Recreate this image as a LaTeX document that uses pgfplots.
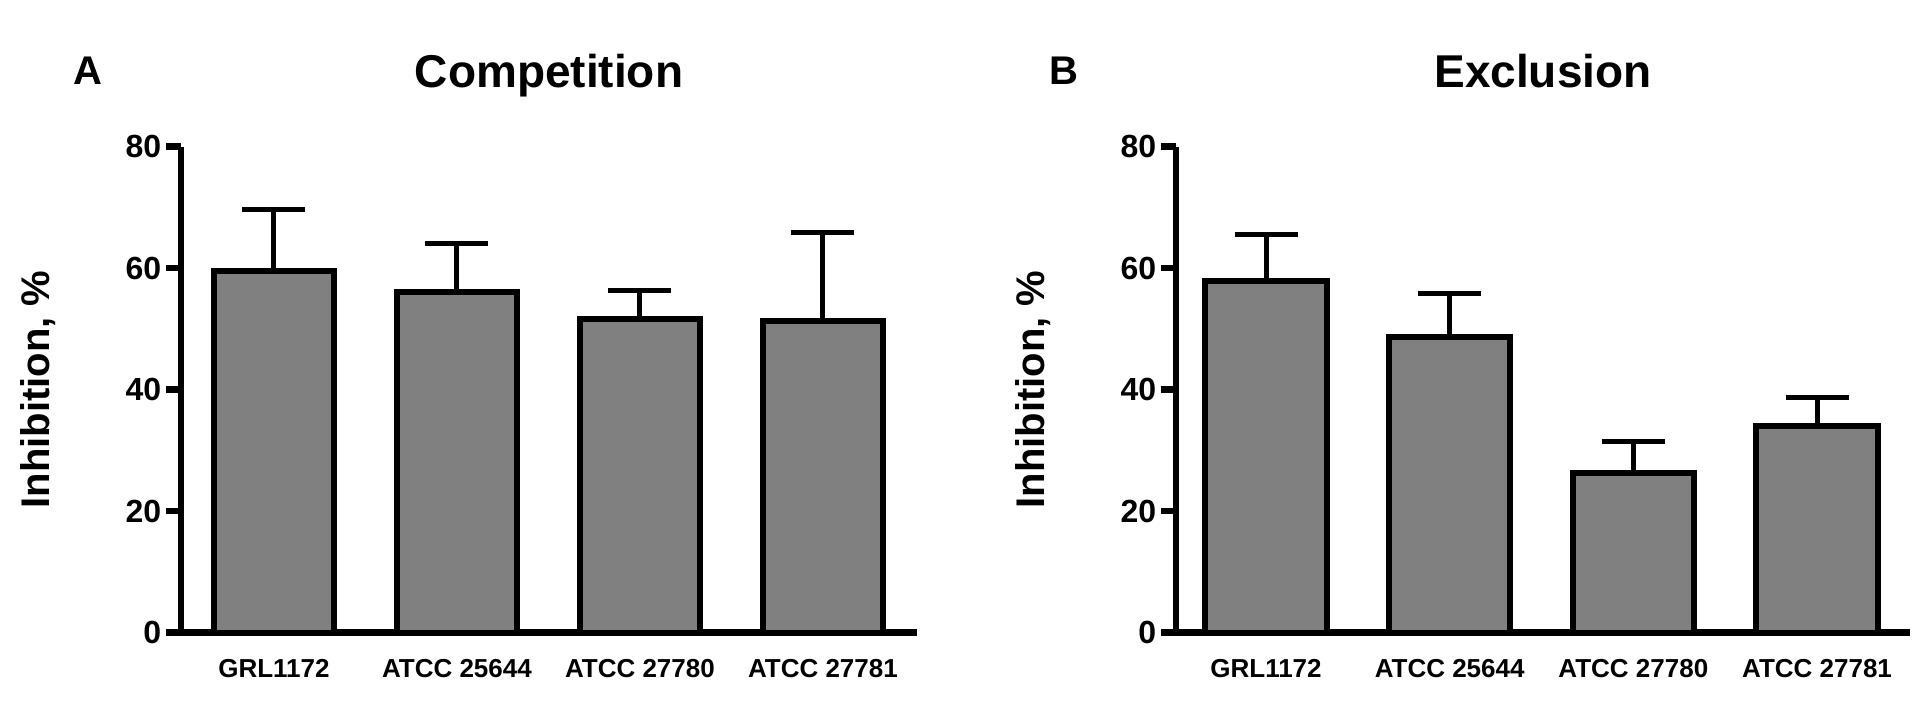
\documentclass[border=0pt]{standalone}
\usepackage{pgfplots}
\pgfplotsset{compat=1.18}
\usepackage{pgfplotstable}
\usepackage{fontspec}
\setmainfont{Liberation Sans}
\definecolor{bargray}{rgb}{0.5,0.5,0.5}

\pgfplotstableread{
x val err
0 59.5 10.2
1 56.0 8.0
2 51.6 4.7
3 51.2 14.7
}\compdata
\pgfplotstableread{
x val err
0 57.9 7.6
1 48.7 7.1
2 26.2 5.2
3 34.0 4.7
}\excldata

\pgfplotsset{
  panel/.style={
    scale only axis,
    height=243pt,
    ymin=0, ymax=80,
    ytick={0,20,40,60,80},
    xtick={0,1,2,3},
    xticklabels={GRL1172,ATCC 25644,ATCC 27780,ATCC 27781},
    axis x line*=bottom,
    axis y line*=left,
    axis line style={line width=3.3pt,-},
    tick align=outside,
    major tick length=7.5pt,
    major y tick style={line width=3.3pt,black},
    major x tick style={draw=none},
    /pgf/number format/assume math mode=true,
    yticklabel style={font=\fontsize{16}{16}\selectfont\bfseries, inner sep=0pt, xshift=-2.2pt},
    xticklabel style={font=\fontsize{13}{13}\selectfont\bfseries, inner sep=0pt, anchor=north, yshift=-5.5pt},
    every axis y label/.style={at={(rel axis cs:0,0.5)}, rotate=90, anchor=center, yshift=71.3pt, font=\fontsize{20}{20}\selectfont\bfseries},
    every axis title/.style={at={(rel axis cs:0.5,1)}, anchor=base, inner sep=0pt, yshift=29.75pt, font=\fontsize{23}{23}\selectfont\bfseries},
    ylabel={Inhibition, \%},
    ybar,
    bar width=0.66,
    clip=false,
  },
  barplot/.style={
    fill=bargray, draw=black, line width=3pt,
    error bars/.cd, y dir=plus, y explicit,
    error bar style={line width=2.5pt, black},
    error mark options={rotate=90, mark size=15.75pt, line width=2.5pt, black},
  },
}

\begin{document}
\begin{tikzpicture}
\path[use as bounding box, fill=white] (0,0) rectangle (960pt,356.5pt);
\begin{axis}[panel, at={(90.5pt,40.25pt)}, anchor=south west, width=368pt,
  xmin=-0.508, xmax=3.514, title={Competition}]
\addplot[barplot] table[x=x, y=val, y error=err] {\compdata};
\node[anchor=base west, font=\fontsize{20}{20}\selectfont\bfseries, inner sep=0pt] at (rel axis cs:0,1) [xshift=-54pt, yshift=31.25pt] {A};
\end{axis}
\begin{axis}[panel, at={(588pt,40.25pt)}, anchor=south west, width=367pt,
  xmin=-0.49, xmax=3.506, title={Exclusion}]
\addplot[barplot] table[x=x, y=val, y error=err] {\excldata};
\node[anchor=base west, font=\fontsize{20}{20}\selectfont\bfseries, inner sep=0pt] at (rel axis cs:0,1) [xshift=-63.5pt, yshift=31.25pt] {B};
\end{axis}
\end{tikzpicture}
\end{document}
